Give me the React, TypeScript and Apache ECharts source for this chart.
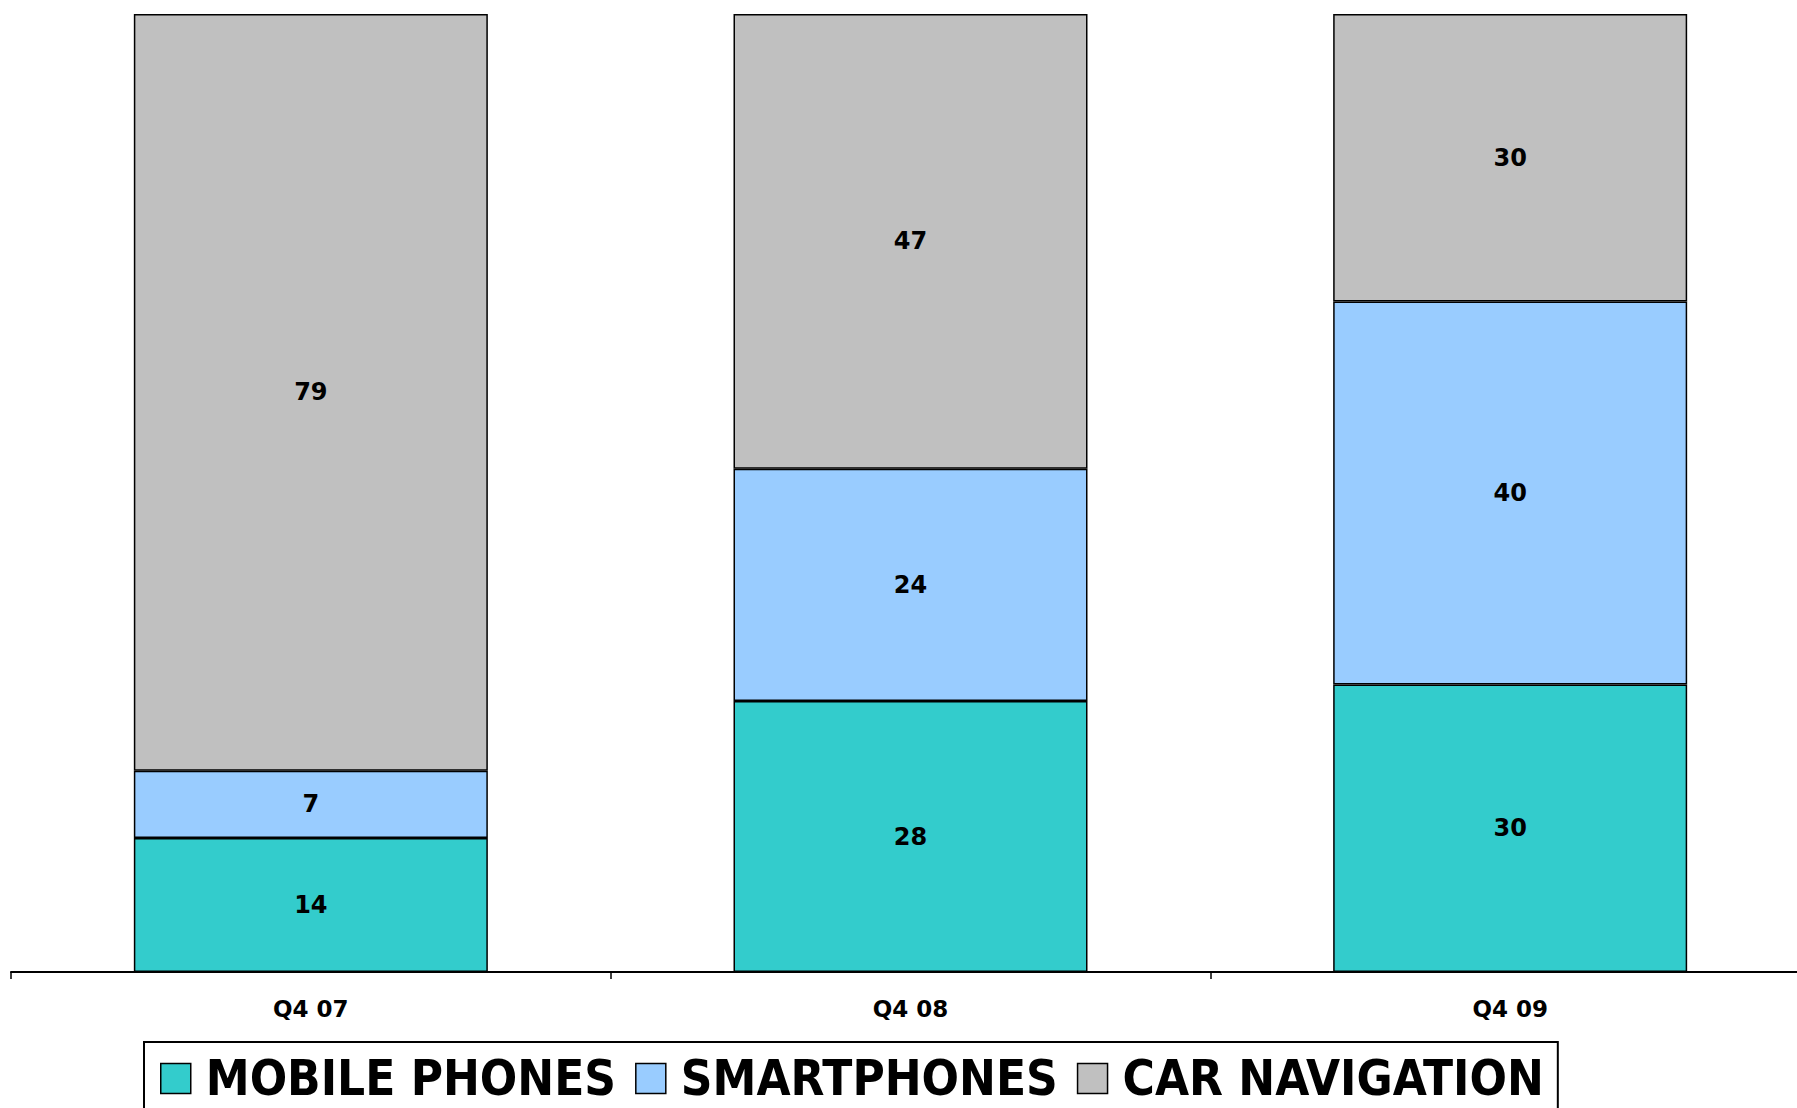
import React, { useEffect, useRef } from "react";
import * as echarts from "echarts";

const categories = ["Q4 07", "Q4 08", "Q4 09"];
const seriesNames = ["MOBILE PHONES", "SMARTPHONES", "CAR NAVIGATION"];
const mobilePhones = [14, 28, 30];
const smartphones = [7, 24, 40];
const carNavigation = [79, 47, 30];
const colors = ["#33CCCC", "#99CCFF", "#C0C0C0"];

const FONT = "'DejaVu Sans', Verdana, sans-serif";

export default function App() {
  const ref = useRef<HTMLDivElement>(null);
  useEffect(() => {
    if (!ref.current) return;
    const chart = echarts.init(ref.current, undefined, { renderer: "svg" });
    const raw = [mobilePhones, smartphones, carNavigation];
    const totals = categories.map((_, i) => raw.reduce((s, arr) => s + arr[i], 0));
    const series = raw.map((arr, si) => ({
      name: seriesNames[si],
      type: "bar",
      stack: "total",
      barWidth: 354,
      data: arr.map((v, i) => ({ value: (v / totals[i]) * 100, raw: v })),
      itemStyle: { color: colors[si], borderColor: "#000", borderWidth: 1.5 },
      label: {
        show: true,
        position: "inside",
        color: "#000",
        fontFamily: FONT,
        fontWeight: "bold",
        fontSize: 24,
        formatter: (p: any) => String(p.data.raw),
      },
    }));
    chart.setOption({
      animation: false,
      backgroundColor: "#fff",
      grid: { left: 11, right: 0, top: 14, bottom: 136, containLabel: false },
      legend: {
        left: 144,
        top: 1042,
        orient: "horizontal",
        data: seriesNames,
        itemWidth: 30,
        itemHeight: 30,
        itemGap: 19,
        padding: [12, 14, 40, 16],
        borderColor: "#000",
        borderWidth: 2,
        backgroundColor: "#fff",
        icon: "rect",
        itemStyle: { borderColor: "#000", borderWidth: 1.5 },
        textStyle: {
          fontFamily: "'DejaVu Sans Condensed', 'DejaVu Sans', sans-serif",
          fontWeight: "bold",
          fontSize: 49,
          lineHeight: 40,
          color: "#000",
          padding: [0, 0, 0, 10],
        },
      },
      xAxis: {
        type: "category",
        data: categories,
        axisLine: { lineStyle: { color: "#000", width: 2 } },
        axisTick: { show: true, length: 7, lineStyle: { color: "#000", width: 1.5 } },
        axisLabel: {
          color: "#000",
          fontFamily: FONT,
          fontWeight: "bold",
          fontSize: 23,
          margin: 25,
        },
      },
      yAxis: { type: "value", min: 0, max: 100, show: false, splitLine: { show: false } },
      series,
    });
    return () => chart.dispose();
  }, []);
  return (
    <div
      ref={ref}
      style={{ position: "fixed", left: 0, top: 0, width: 1810, height: 1108 }}
    />
  );
}
